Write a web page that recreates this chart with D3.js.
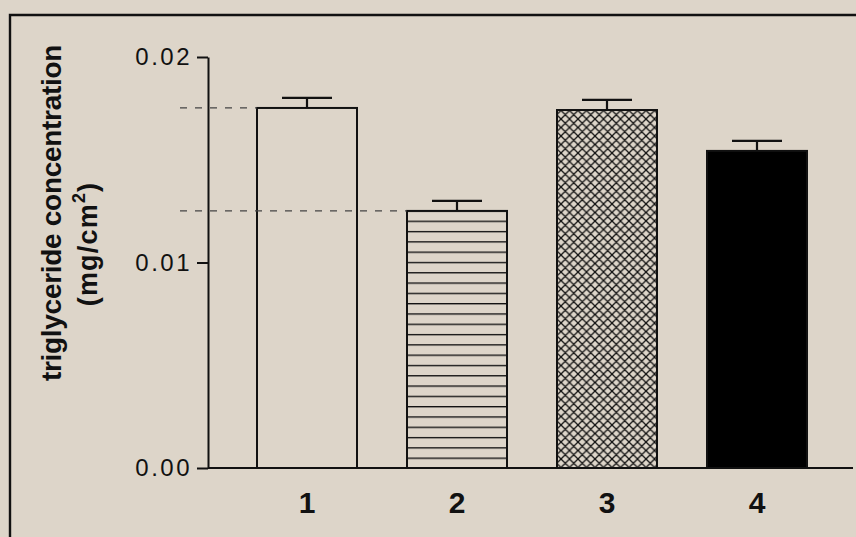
<!DOCTYPE html>
<html>
<head>
<meta charset="utf-8">
<script src="https://cdn.jsdelivr.net/npm/d3@7"></script>
<style>
  html, body { margin: 0; padding: 0; background: #ddd5c9; }
  svg { display: block; font-family: "Liberation Sans", Arial, sans-serif; }
</style>
</head>
<body>
<svg id="chart" width="856" height="537"></svg>
<script>
// data
const groups = ["1", "2", "3", "4"];
const means = [0.01752, 0.01251, 0.01742, 0.01543];
const sems = [0.00049, 0.00049, 0.00049, 0.00049];
const yTicks = [0, 0.01, 0.02];
const refGroups = ["1", "2"];   // dashed reference lines
const yTitle = "triglyceride concentration";

const W = 856, H = 537;
const axisX = 208, y0 = 468, yTop = 57;
const ink = "#111";

const svg = d3.select("#chart");

// frame
svg.append("path")
  .attr("d", `M10,${H + 2}V15H${W + 2}`)
  .attr("fill", "none").attr("stroke", ink).attr("stroke-width", 2.4);

const defs = svg.append("defs");
// horizontal lines (group 2)
const hp = defs.append("pattern").attr("id", "hlines")
  .attr("patternUnits", "userSpaceOnUse").attr("width", 10).attr("height", 10.3);
hp.append("line").attr("x1", 0).attr("x2", 10).attr("y1", 0.6).attr("y2", 0.6)
  .attr("stroke", ink).attr("stroke-width", 1.5);
// crosshatch (group 3)
const cp = defs.append("pattern").attr("id", "xhatch")
  .attr("patternUnits", "userSpaceOnUse").attr("width", 8.5).attr("height", 8.5);
cp.append("path").attr("d", "M-2,2L2,-2M0,8.5L8.5,0M6.5,10.5L10.5,6.5M-2,6.5L2,10.5M0,0L8.5,8.5M6.5,-2L10.5,2")
  .attr("stroke", ink).attr("stroke-width", 1.3);

const fillFor = { "1": "none", "2": "url(#hlines)", "3": "url(#xhatch)", "4": "#000" };

const x = d3.scaleBand().domain(groups).range([axisX - 1, axisX + 649])
  .paddingInner(1 / 3).paddingOuter(1 / 3);
const y = d3.scaleLinear().domain([0, 0.02]).range([y0, yTop]);

// bars
const bars = svg.append("g");
groups.forEach((g, i) => {
  const top = y(means[i]);
  if (g === "2") hp.attr("y", top - 0.6);
  bars.append("rect")
    .attr("x", x(g)).attr("y", top)
    .attr("width", x.bandwidth()).attr("height", y0 - top)
    .attr("fill", fillFor[g]).attr("stroke", ink).attr("stroke-width", 2);
  // error bar
  const cx = x(g) + x.bandwidth() / 2;
  const eTop = y(means[i] + sems[i]);
  bars.append("path")
    .attr("d", `M${cx},${top}V${eTop}M${cx - x.bandwidth() / 4},${eTop}H${cx + x.bandwidth() / 4}`)
    .attr("fill", "none").attr("stroke", ink).attr("stroke-width", 2.2);
});

// dashed reference lines
refGroups.forEach(g => {
  const i = groups.indexOf(g);
  svg.append("line")
    .attr("x1", 180).attr("x2", x(g))
    .attr("y1", y(means[i])).attr("y2", y(means[i]))
    .attr("stroke", "#444").attr("stroke-width", 1.3)
    .attr("stroke-dasharray", "7,8");
});

// y axis
const yAxis = svg.append("g").attr("transform", `translate(${axisX},0)`)
  .call(d3.axisLeft(y).tickValues(yTicks).tickFormat(d3.format(".2f"))
    .tickSize(11).tickSizeOuter(0).tickPadding(5));
yAxis.select(".domain").attr("stroke", ink).attr("stroke-width", 2);
yAxis.selectAll(".tick line").attr("stroke", ink).attr("stroke-width", 2);
yAxis.selectAll(".tick text")
  .attr("font-size", 24).attr("letter-spacing", 2.5).attr("fill", ink)
  .attr("font-family", "'Liberation Sans', Arial, sans-serif");

// x axis
const xAxis = svg.append("g").attr("transform", `translate(0,${y0})`)
  .call(d3.axisBottom(x).tickSize(0).tickSizeOuter(0).tickPadding(24));
xAxis.select(".domain").attr("stroke", ink).attr("stroke-width", 2)
  .attr("d", `M${axisX},0H${W - 3}`);
xAxis.selectAll(".tick text")
  .attr("font-size", 30).attr("font-weight", "bold").attr("fill", ink)
  .attr("font-family", "'Liberation Sans', Arial, sans-serif");

// y title
const t = svg.append("g").attr("transform", "translate(0,213) rotate(-90)")
  .attr("font-weight", "bold").attr("fill", ink).attr("text-anchor", "middle")
  .attr("font-family", "'Liberation Sans', Arial, sans-serif");
t.append("text").attr("x", 0).attr("y", 61)
  .attr("font-size", 28).attr("letter-spacing", -0.3).text(yTitle);
const u = t.append("text").attr("x", -31).attr("y", 97)
  .attr("font-size", 27).attr("letter-spacing", 1.2);
u.append("tspan").text("(mg/cm");
u.append("tspan").attr("font-size", 18).attr("dy", -12).text("2");
u.append("tspan").attr("dy", 12).text(")");
</script>
</body>
</html>
